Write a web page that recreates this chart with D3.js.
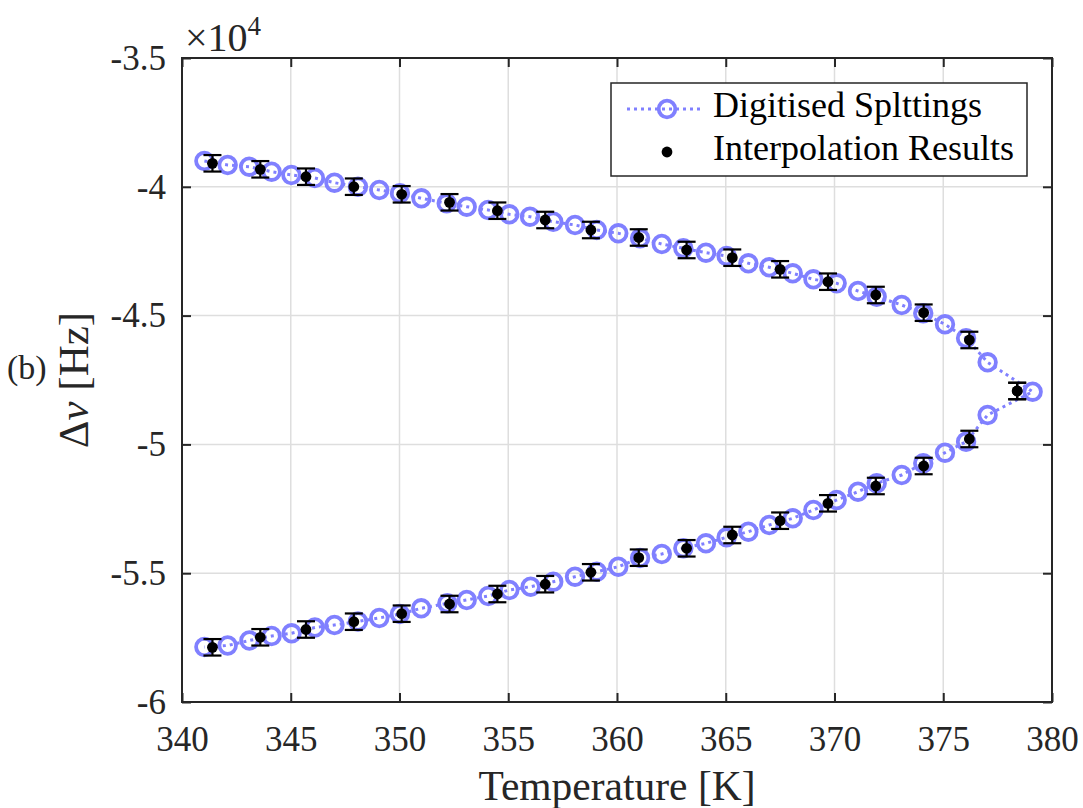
<!DOCTYPE html>
<html>
<head>
<meta charset="utf-8">
<script src="https://cdn.jsdelivr.net/npm/d3@7"></script>
<style>
    body { margin: 0; background: #fff; }
    svg { display: block; font-family: "Liberation Serif", "DejaVu Serif", serif; }
    .grid line { stroke: #dedede; stroke-width: 1.5; }
    .tick-label { fill: #262626; font-size: 35px; font-family: "Liberation Serif", serif; }
</style>
</head>
<body>
<div id="chart"></div>
<script>
"use strict";

const digitT = [341.03, 342.10, 343.09, 344.12, 345.03, 346.11, 347.01, 348.09, 349.07, 350.02,
    351.01, 352.17, 353.09, 354.08, 355.05, 356.00, 357.07, 358.07, 359.07, 360.06,
    361.06, 362.06, 363.05, 364.09, 365.04, 366.04, 367.00, 368.08, 369.03, 370.10,
    371.08, 371.94, 373.09, 374.08, 375.08, 376.05, 377.04, 379.11,
    377.04, 376.05, 375.08, 374.08, 373.09, 371.94, 371.08, 370.10, 369.03, 368.08,
    367.00, 366.04, 365.04, 364.09, 363.05, 362.06, 361.06, 360.06, 359.07, 358.07,
    357.07, 356.03, 355.05, 354.08, 353.09, 352.20, 351.00, 350.02, 349.07, 348.09,
    347.01, 346.11, 345.04, 344.12, 343.10, 342.10, 341.03];
const digitHz = [-39000, -39154, -39220, -39414, -39542, -39658, -39841, -39996, -40124, -40252,
    -40446, -40641, -40773, -40901, -41068, -41161, -41355, -41483, -41677, -41805,
    -41999, -42221, -42388, -42558, -42686, -42970, -43125, -43358, -43591, -43746,
    -44045, -44266, -44589, -44911, -45338, -45881, -46813, -47954,
    -48859, -49895, -50322, -50734, -51188, -51510, -51836, -52158, -52547, -52869,
    -53129, -53389, -53606, -53840, -54033, -54255, -54410, -54748, -54942, -55136,
    -55330, -55524, -55652, -55885, -56040, -56169, -56363, -56584, -56739, -56875,
    -57011, -57108, -57333, -57438, -57612, -57807, -57865];

// interpolation results (same temperatures for both branches)
const interpT = [341.4, 343.6, 345.7, 347.9, 350.1, 352.3, 354.5, 356.7, 358.8,
    361.0, 363.2, 365.3, 367.5, 369.7, 371.9, 374.1, 376.2, 378.4];
const interpUpper = [-39088, -39321, -39608, -39996, -40291, -40602, -40928, -41289, -41677,
    -41968, -42453, -42752, -43203, -43684, -44200, -44887, -45947, -47927];
const interpLower = [-57877, -57488, -57186, -56883, -56572, -56196, -55808, -55427, -54965,
    -54398, -54033, -53517, -52962, -52287, -51615, -50839, -49790, -47927];
const interpErr = 320;

const xTicks = [340, 345, 350, 355, 360, 365, 370, 375, 380];
const yTicks = [-35000, -40000, -45000, -50000, -55000, -60000];
const legendLabels = ["Digitised Splttings", "Interpolation Results"];

const LINE_COLOR = "#8080ff";
const AXIS_COLOR = "#262626";

function buildChart() {
    const width = 1083, height = 808;
    const m = {left: 182, top: 58, right: 31, bottom: 106};
    const w = width - m.left - m.right, h = height - m.top - m.bottom;

    const svg = d3.select("#chart").append("svg")
        .attr("width", width).attr("height", height);
    svg.append("rect").attr("width", width).attr("height", height).attr("fill", "#fff");

    const x = d3.scaleLinear().domain([340, 380]).range([m.left, m.left + w]);
    const y = d3.scaleLinear().domain([-60000, -35000]).range([m.top + h, m.top]);

    // grid
    const grid = svg.append("g").attr("class", "grid");
    grid.selectAll(".gx").data(xTicks.slice(1, -1)).enter().append("line")
        .attr("x1", d => x(d)).attr("x2", d => x(d))
        .attr("y1", m.top).attr("y2", m.top + h);
    grid.selectAll(".gy").data(yTicks.slice(1, -1)).enter().append("line")
        .attr("y1", d => y(d)).attr("y2", d => y(d))
        .attr("x1", m.left).attr("x2", m.left + w);

    // axes with inward ticks on all sides
    const tickLen = 9;
    const axisB = svg.append("g").attr("transform", "translate(0," + (m.top + h) + ")")
        .call(d3.axisBottom(x).tickValues(xTicks).tickSize(-tickLen).tickPadding(24));
    const axisT = svg.append("g").attr("transform", "translate(0," + m.top + ")")
        .call(d3.axisTop(x).tickValues(xTicks).tickSize(-tickLen).tickFormat(""));
    const axisL = svg.append("g").attr("transform", "translate(" + m.left + ",0)")
        .call(d3.axisLeft(y).tickValues(yTicks).tickSize(-tickLen).tickPadding(16)
            .tickFormat(d => String(d / 1e4)));
    const axisR = svg.append("g").attr("transform", "translate(" + (m.left + w) + ",0)")
        .call(d3.axisRight(y).tickValues(yTicks).tickSize(-tickLen).tickFormat(""));
    [axisB, axisT, axisL, axisR].forEach(function (a) {
        a.attr("font-family", null).attr("font-size", null);
        a.select(".domain").remove();
        a.selectAll(".tick line").attr("stroke", AXIS_COLOR).attr("stroke-width", 2);
        a.selectAll(".tick text").attr("class", "tick-label").attr("fill", null);
    });
    axisB.selectAll(".tick text").attr("dy", "0.71em");
    svg.append("rect")
        .attr("x", m.left).attr("y", m.top).attr("width", w).attr("height", h)
        .attr("fill", "none").attr("stroke", AXIS_COLOR).attr("stroke-width", 2);

    const pts = digitT.map((t, i) => [t, digitHz[i]]);
    svg.append("path")
        .datum(pts)
        .attr("fill", "none")
        .attr("stroke", LINE_COLOR)
        .attr("stroke-width", 3)
        .attr("stroke-dasharray", "3,4")
        .attr("d", d3.line().x(d => x(d[0])).y(d => y(d[1])));
    svg.append("g").selectAll("circle").data(pts).enter().append("circle")
        .attr("cx", d => x(d[0])).attr("cy", d => y(d[1])).attr("r", 8.3)
        .attr("fill", "none").attr("stroke", LINE_COLOR).attr("stroke-width", 3.8);

    // interpolation results with error bars
    const ip = interpT.map((t, i) => [t, interpUpper[i]])
        .concat(interpT.map((t, i) => [t, interpLower[i]]));
    const eb = svg.append("g").attr("stroke", "#000").attr("stroke-width", 2.2);
    const cap = 9;
    eb.selectAll(".ev").data(ip).enter().append("line")
        .attr("x1", d => x(d[0])).attr("x2", d => x(d[0]))
        .attr("y1", d => y(d[1] - interpErr)).attr("y2", d => y(d[1] + interpErr));
    eb.selectAll(".ct").data(ip).enter().append("line")
        .attr("x1", d => x(d[0]) - cap).attr("x2", d => x(d[0]) + cap)
        .attr("y1", d => y(d[1] + interpErr)).attr("y2", d => y(d[1] + interpErr));
    eb.selectAll(".cb").data(ip).enter().append("line")
        .attr("x1", d => x(d[0]) - cap).attr("x2", d => x(d[0]) + cap)
        .attr("y1", d => y(d[1] - interpErr)).attr("y2", d => y(d[1] - interpErr));
    svg.append("g").selectAll("circle").data(ip).enter().append("circle")
        .attr("cx", d => x(d[0])).attr("cy", d => y(d[1])).attr("r", 5.4)
        .attr("fill", "#000");

    // axis labels
    svg.append("text")
        .attr("x", m.left + w / 2).attr("y", 800)
        .attr("text-anchor", "middle").attr("font-size", 41.5).attr("fill", AXIS_COLOR)
        .text("Temperature [K]");
    const yl = svg.append("text")
        .attr("transform", "translate(88," + (m.top + h / 2) + ") rotate(-90)")
        .attr("text-anchor", "middle").attr("font-size", 43).attr("fill", AXIS_COLOR);
    yl.append("tspan").text("\u0394");
    yl.append("tspan").attr("font-style", "italic").text("\u03bd");
    yl.append("tspan").text(" [Hz]");
    svg.append("text")
        .attr("x", 7).attr("y", 379)
        .attr("font-size", 34).attr("fill", AXIS_COLOR)
        .text("(b)");

    // exponent label
    const ex = svg.append("text")
        .attr("x", 185).attr("y", 51)
        .attr("font-size", 40).attr("fill", AXIS_COLOR);
    ex.append("tspan").text("\u00d710");
    ex.append("tspan").attr("font-size", 27).attr("dy", -16).text("4");

    // legend
    const lg = svg.append("g");
    lg.append("rect")
        .attr("x", 611).attr("y", 83).attr("width", 416).attr("height", 93)
        .attr("fill", "#fff").attr("stroke", AXIS_COLOR).attr("stroke-width", 1.5);
    const rowY = [109, 152];
    lg.append("line")
        .attr("x1", 627).attr("x2", 703).attr("y1", rowY[0]).attr("y2", rowY[0])
        .attr("stroke", LINE_COLOR).attr("stroke-width", 3).attr("stroke-dasharray", "3,4");
    lg.append("circle")
        .attr("cx", 667).attr("cy", rowY[0]).attr("r", 8.3)
        .attr("fill", "none").attr("stroke", LINE_COLOR).attr("stroke-width", 3.8);
    lg.append("circle")
        .attr("cx", 667).attr("cy", rowY[1]).attr("r", 5.4).attr("fill", "#000");
    lg.selectAll(".lt").data(legendLabels).enter().append("text")
        .attr("x", 713).attr("y", (d, i) => rowY[i] + 8)
        .attr("font-size", 36).attr("fill", "#000")
        .text(d => d);
}

buildChart();
</script>
</body>
</html>
